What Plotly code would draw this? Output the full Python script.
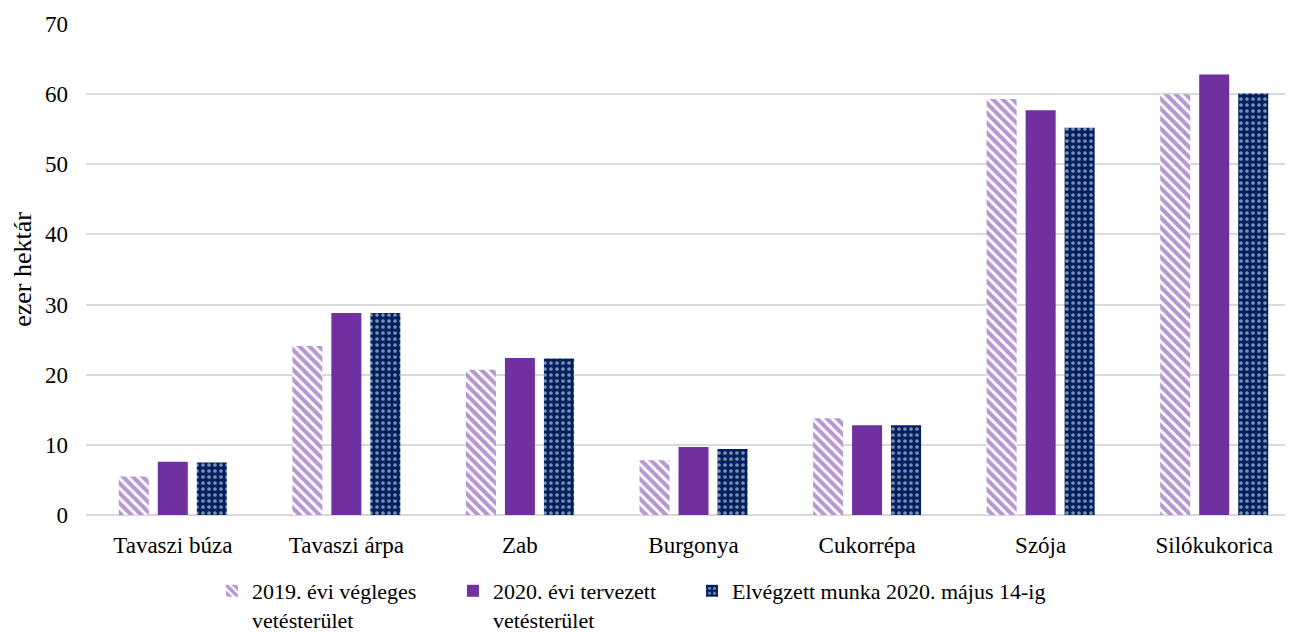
import plotly.graph_objects as go

categories = ["Tavaszi búza", "Tavaszi árpa", "Zab", "Burgonya", "Cukorrépa", "Szója", "Silókukorica"]
series_names = ["2019. évi végleges<br>vetésterület", "2020. évi tervezett<br>vetésterület", "Elvégzett munka 2020. május 14-ig"]
v2019 = [5.5, 24.1, 20.7, 7.8, 13.8, 59.3, 60.0]
v2020 = [7.6, 28.8, 22.4, 9.7, 12.8, 57.7, 62.8]
vdone = [7.5, 28.8, 22.3, 9.4, 12.8, 55.2, 60.1]
y_ticks = [0, 10, 20, 30, 40, 50, 60, 70]

PURPLE = "#7030A0"
NAVY = "#002060"
FONT = "Liberation Serif"
FS = 23

fig = go.Figure()
fig.add_trace(go.Bar(
    name=series_names[0], x=categories, y=v2019, legend="legend",
    marker=dict(color="white", line=dict(width=0),
                pattern=dict(shape="\\", fgcolor=PURPLE, bgcolor="white", size=7, solidity=0.6)),
))
fig.add_trace(go.Bar(
    name=series_names[1], x=categories, y=v2020, legend="legend2",
    marker=dict(color=PURPLE, line=dict(width=0)),
))
fig.add_trace(go.Bar(
    name=series_names[2], x=categories, y=vdone, legend="legend3",
    marker=dict(color=NAVY, line=dict(width=0),
                pattern=dict(shape=".", fgcolor="white", bgcolor=NAVY, size=6, solidity=0.3)),
))

leg_common = dict(orientation="h", y=0.1108, yref="container", yanchor="top", xanchor="left",
                  font=dict(family=FONT, size=22, color="black"),
                  itemwidth=30, valign="top", bgcolor="rgba(0,0,0,0)")

fig.update_layout(
    width=1293, height=632,
    margin=dict(l=78, r=0, t=16, b=125, autoexpand=False),
    paper_bgcolor="white", plot_bgcolor="white",
    barmode="group", bargap=0.326, bargroupgap=0.23,
    font=dict(family=FONT, size=FS, color="black"),
    showlegend=True,
    legend=dict(x=0.1037, **leg_common),
    legend2=dict(x=0.302, **leg_common),
    legend3=dict(x=0.4988, **leg_common),
    xaxis=dict(range=[-0.5, 6.5], showgrid=False, showline=False, ticks="",
               ticklabelstandoff=14,
               tickfont=dict(family=FONT, size=FS)),
    yaxis=dict(range=[0, 70], tickvals=y_ticks, showgrid=True, gridcolor="#d9d9d9", gridwidth=2,
               zeroline=True, zerolinecolor="#d9d9d9", zerolinewidth=2,
               showline=False, ticks="", ticklabelstandoff=17,
               tickfont=dict(family=FONT, size=FS),
               title=dict(text="ezer hektár", font=dict(family=FONT, size=26), standoff=16)),
)

fig.write_html("out.html")
